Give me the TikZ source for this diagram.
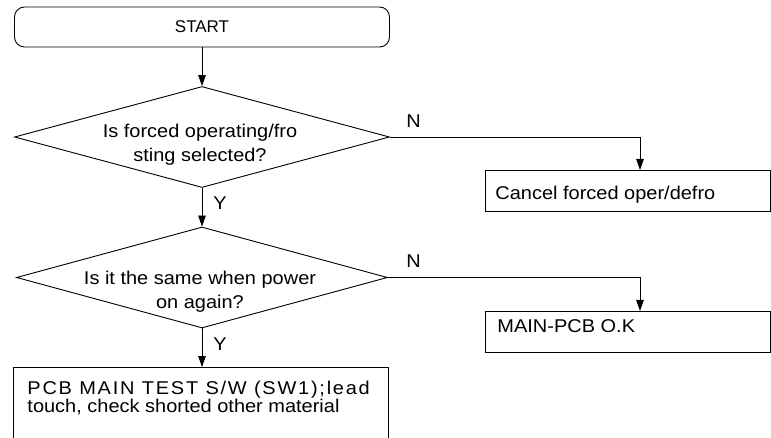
\documentclass[tikz,border=0pt]{standalone}
\usepackage{fontspec}
\setmainfont{Liberation Sans}[FakeStretch=1.08]
\newfontfamily\startfont{Liberation Sans}
\newfontfamily\spacedfont{Liberation Sans}[FakeStretch=1.08,LetterSpace=9.5]
\usetikzlibrary{shapes.geometric,arrows.meta,calc}
\begin{document}
\begin{tikzpicture}[x=1pt,y=-1pt, line width=0.9pt,
  txt/.style={font=\fontsize{18.5}{24.5}\selectfont, inner sep=0pt},
  arr/.style={-{Triangle[length=11pt,width=7.5pt]}},
  box/.style={draw, rectangle, minimum width=285pt, minimum height=41pt, anchor=north west, inner sep=0pt},
  dec/.style={draw, diamond, inner sep=0pt}]
\clip (0,0) rectangle (771,438);
\node[draw, rounded corners=10pt, minimum width=375pt, minimum height=40pt, inner sep=0pt,
      font=\startfont\fontsize{17}{20}\selectfont] (start) at (202,27) {START};
\node[dec, minimum width=375pt, minimum height=101pt] (d1) at (202,137) {};
\node[txt, align=center, anchor=north] (t1) at (200,123.5) {Is forced operating/fro\\sting selected?};
\node[box] (b1) at (485,170) {};
\node[txt, anchor=base west] (t2) at (495,200) {Cancel forced oper/defro};
\node[dec, minimum width=371pt, minimum height=101pt] (d2) at (202,277.5) {};
\node[txt, align=center, anchor=north] (t3) at (200,270.5) {Is it the same when power\\on again?};
\node[box] (b2) at (485,311) {};
\node[txt, anchor=base west] (t4) at (497,332) {MAIN-PCB O.K};
\node[draw, rectangle, minimum width=375pt, minimum height=100pt, anchor=north west, inner sep=0pt] (b3) at (13,367) {};
\node[txt, font=\spacedfont\fontsize{18.5}{24.5}\selectfont, anchor=base west] (t5a) at (27,394.5) {PCB MAIN TEST S/W (SW1);lead};
\node[txt, anchor=base west] (t5b) at (27,412.5) {touch, check shorted other material};
\node[txt, anchor=base west] (n1) at (406,128) {N};
\node[txt, anchor=base west] (y1) at (213,210) {Y};
\node[txt, anchor=base west] (n2) at (406,268) {N};
\node[txt, anchor=base west] (y2) at (213,350) {Y};
\coordinate (b1in) at ($(b1.north west)+(155,0)$);
\coordinate (b2in) at ($(b2.north west)+(155,0)$);
\draw[arr] (start.south) -- (d1.north);
\draw[arr] (d1.south) -- (d2.north);
\draw[arr] (d2.south) -- (d2.south |- b3.north);
\draw[arr] (d1.east) -| (b1in);
\draw[arr] (d2.east) -| (b2in);
\end{tikzpicture}
\end{document}
